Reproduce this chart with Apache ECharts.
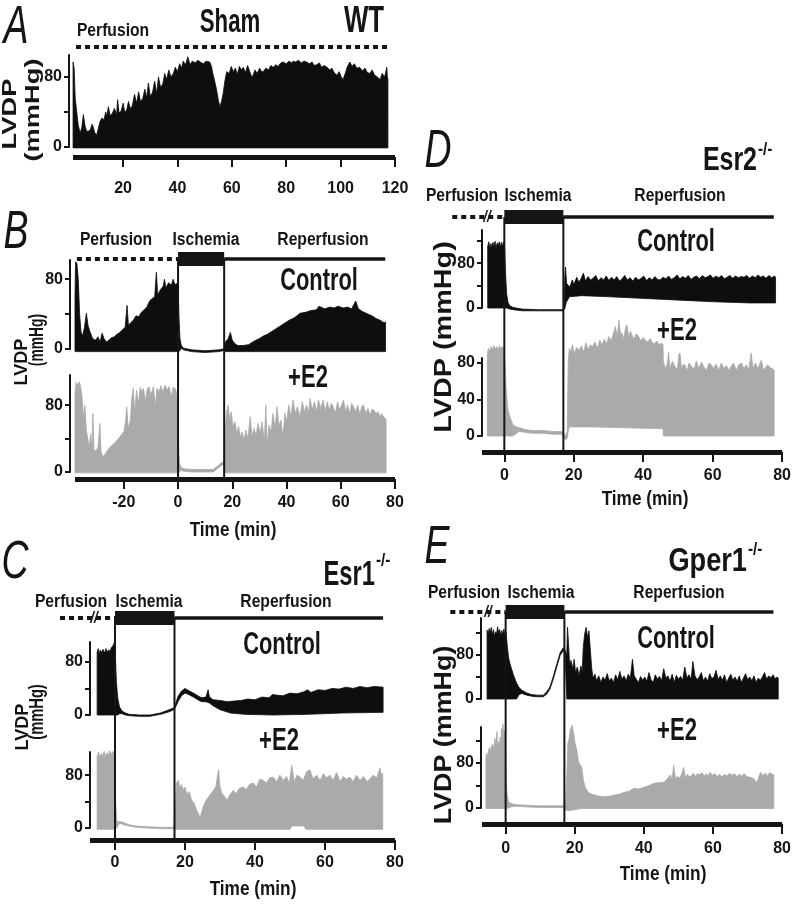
<!DOCTYPE html>
<html><head><meta charset="utf-8">
<script src="https://cdn.jsdelivr.net/npm/echarts@6/dist/echarts.min.js"></script>
<style>html,body{margin:0;padding:0;background:#fff}#c{width:794px;height:908px}</style>
</head><body><div id="c"></div>
<script>
// ================= DATA (time in min, LVDP in mmHg) =================
const A_xTicks = [20,40,60,80,100,120];
const B_xTicks = [-20,0,20,40,60,80];
const CDE_xTicks = [0,20,40,60,80];

const A_upper = [[1.6,97],[2.0,90],[2.4,55],[2.9,42],[3.5,25],[4.2,16],[4.8,22],[5.4,37],[6.0,24],[6.6,18],[7.2,18],[8.0,20],[8.6,26],[9.0,23],[9.6,16],[10.3,14],[10.8,20],[11.5,29],[12.2,33],[13.0,31],[13.6,40],[14.0,35],[14.6,46],[15.2,36],[16.0,38],[16.8,44],[17.6,37],[18.0,54],[18.5,39],[19.3,41],[20.0,50],[20.6,40],[21.3,42],[22.0,52],[22.6,44],[23.4,47],[24.2,60],[25.0,50],[25.7,63],[26.4,52],[27.2,55],[28.0,66],[28.7,56],[29.3,73],[30.0,58],[30.8,62],[31.6,75],[32.4,61],[33.0,80],[33.8,68],[34.6,72],[35.3,84],[36.0,77],[36.8,88],[37.6,80],[38.5,84],[39.2,91],[40.0,86],[40.8,95],[41.5,90],[42.1,98],[43.0,94],[43.8,103],[44.6,94],[45.5,98],[46.5,96],[47.5,99],[48.3,97],[49.5,95],[50.5,98],[51.9,97],[52.5,92],[53.0,84],[53.7,75],[54.4,65],[55.0,54],[55.6,46],[56.2,52],[56.8,61],[57.4,75],[58.1,86],[59.0,84],[59.8,92],[60.5,86],[61.3,90],[62.0,83],[62.8,92],[63.5,88],[64.2,91],[65.0,85],[65.8,93],[66.6,86],[67.3,80],[67.8,82],[68.5,88],[69.3,84],[70.2,90],[71.0,86],[71.5,86],[72.5,90],[73.5,88],[74.3,93],[75.2,91],[76.2,94],[77.0,92],[78.0,96],[78.9,97],[80.0,95],[81.0,98],[82.0,96],[82.5,98],[83.5,97],[84.5,99],[85.5,96],[86.5,98],[87.5,97],[88.5,95],[89.5,97],[90.3,93],[91.2,94],[92.2,96],[93.0,91],[94.0,93],[95.0,91],[96.0,88],[96.8,90],[97.6,85],[98.6,82],[99.5,86],[100.2,80],[100.9,77],[101.6,83],[102.5,92],[103.4,97],[104.2,92],[105.0,95],[106.0,90],[107.0,91],[108.0,87],[109.0,90],[109.8,85],[110.8,84],[111.6,88],[112.5,82],[113.5,80],[114.5,77],[115.3,84],[116.2,80],[117.0,91],[117.2,80],[117.4,77]];
const A_lower = [[1.6,-1],[117.4,-1]];

const B_ctrl_upper = [[-38,60],[-37.8,100],[-37.3,98],[-36.8,80],[-36.3,40],[-35.8,20],[-35.2,15],[-34.5,25],[-33.8,41],[-33.2,27],[-32.5,20],[-31.5,12],[-30.5,10],[-29.5,14],[-28.8,8],[-28,18],[-27.3,12],[-26.5,8],[-25.5,10],[-24.5,13],[-23.5,14],[-22.5,17],[-21.5,19],[-20.5,22],[-19.5,25],[-18.8,50],[-18.3,27],[-17.5,30],[-16.5,33],[-15.5,38],[-14.5,37],[-13.5,42],[-12.5,45],[-11.5,48],[-10.5,55],[-9.5,58],[-8.6,60],[-8,88],[-7.5,62],[-6.5,68],[-5.5,72],[-5,80],[-4.5,70],[-3.5,76],[-2.5,73],[-1.8,80],[-1.2,74],[-0.5,75],[0,70],[0.3,40],[0.7,12],[1.2,4],[2,1],[5,-1],[10,-2],[15,-1],[16.5,0],[17,1],[17.5,8],[18.5,12],[19.3,19],[20,10],[21,6],[22,4],[24,4],[26,5],[28,9],[30,12],[31.5,15],[33,17],[35,21],[37,25],[39,29],[41,33],[43,36],[45,41],[47,42],[49,44],[51,45],[52,49],[54,46],[56,48],[57.5,47],[59,49],[61,47],[62.5,48],[64,46],[65.5,55],[66.5,46],[68,43],[70,40],[71.5,38],[73,35],[74.5,33],[76,30],[76.5,31]];
const B_ctrl_lower = [[-38,-3],[0,-3],[0.7,-2],[1.2,1],[2,-1],[5,-3],[10,-4],[15,-3],[16.5,-2],[17,-1],[17.5,-3],[76.5,-3]];

const B_e2_upper = [[-38,95],[-37.6,107],[-37,104],[-36.4,108],[-35.8,100],[-35.4,90],[-35,65],[-34.4,80],[-33.8,50],[-33.3,40],[-32.8,30],[-32.2,45],[-31.8,28],[-31.4,70],[-31,26],[-30.2,25],[-29.5,30],[-28.8,58],[-28.4,24],[-27.6,18],[-26.8,22],[-26,26],[-25,30],[-24,33],[-23,36],[-22,40],[-21,44],[-20,48],[-19.4,60],[-18.9,78],[-18.4,52],[-17.6,62],[-17,90],[-16.5,100],[-16,70],[-15.3,98],[-14.6,80],[-14,101],[-13.3,96],[-12.8,100],[-12,85],[-11.4,99],[-10.7,102],[-10,92],[-9.1,102],[-8.4,78],[-7.8,100],[-7,96],[-6.3,103],[-5.6,95],[-4.8,104],[-4,98],[-3.3,102],[-2.5,90],[-1.8,101],[-1.1,100],[-0.5,95],[0,60],[0.3,20],[0.6,10],[1,6],[2,4],[5,3],[10,3],[13,3],[14.5,7],[16,11],[17,12],[17.3,40],[17.8,70],[18.5,80],[19,62],[19.6,72],[20.3,54],[21,60],[21.7,45],[22.3,55],[22.9,42],[23.6,48],[24.3,38],[25,50],[25.8,40],[26.6,66],[27.3,42],[28,52],[28.8,44],[29.5,58],[30.3,46],[31,60],[31.8,36],[32.4,80],[32.8,30],[33.5,56],[34.3,48],[35,70],[35.8,52],[36.5,78],[37.2,55],[37.9,62],[38.7,42],[39.4,70],[40.1,60],[40.8,80],[41.6,66],[42.4,86],[43.2,70],[44,78],[45,66],[45.8,84],[46.6,72],[47.4,80],[48.1,70],[48.7,88],[49.5,74],[50.3,84],[51,72],[51.8,86],[52.6,76],[53.5,86],[54.3,72],[55,84],[55.8,74],[56.5,82],[57.2,78],[58,70],[58.8,84],[59.5,74],[60.3,80],[61,86],[61.8,72],[62.5,80],[63.3,70],[64,82],[64.7,78],[65.5,72],[66.3,80],[67,68],[67.7,78],[68.4,80],[69.2,70],[70,76],[70.8,68],[71.5,75],[72.2,74],[73,70],[73.8,72],[74.5,66],[75.2,70],[75.7,66],[76.4,64],[76.7,63]];
const B_e2_lower = [[-38,-1],[0,-1],[0.6,0],[1,2],[2,1],[5,0],[10,0],[13,0],[14.5,4],[16,8],[17,9],[17.3,-1],[76.7,-1]];

const C_ctrl_upper = [[-5.1,95],[-4.8,100],[-4.5,92],[-4.2,98],[-3.8,94],[-3.4,99],[-3.0,93],[-2.6,100],[-2.2,95],[-1.8,98],[-1.4,96],[-1.0,102],[-0.6,104],[-0.3,108],[-0.1,110],[0.1,90],[0.4,50],[0.8,25],[1.3,12],[2,6],[3,3],[4,1],[7,0],[10,0],[13,3],[15,7],[16.5,10],[17,12],[17.5,20],[18,28],[19,36],[20,40],[21,37],[22.4,33],[24,28],[24.8,26],[26,27],[26.6,38],[27,27],[28,23],[30,22],[32,20],[34,21],[36,22],[38,24],[40,23],[42,27],[44,26],[45,31],[46,30],[48,29],[50,33],[52,32],[54,35],[55,38],[56,34],[58,38],[60,37],[62,40],[64,39],[66,42],[68,40],[70,43],[72,41],[74,43],[76.6,42]];
const C_ctrl_lower = [[-5.1,0],[0.1,0],[0.8,0],[1.3,2],[2,2],[3,0],[4,-1],[7,-2],[10,-2],[13,1],[15,4],[16.5,7],[17,9],[17.5,14],[18,20],[19,29],[20,33],[21,31],[22.4,27],[24,22],[24.8,20],[26,20],[27,18],[28,14],[30,8],[33,3],[37,1],[45,0],[55,1],[65,3],[76.6,4]];

const C_e2_upper = [[-5.1,108],[-4.7,115],[-4.3,106],[-3.9,113],[-3.5,109],[-3.1,116],[-2.7,108],[-2.3,114],[-1.9,110],[-1.5,117],[-1.1,111],[-0.7,116],[-0.3,112],[0,100],[0.2,40],[0.5,12],[1,9],[1.5,10],[2.5,8],[4,5],[6,3],[9,2],[13,1],[16.8,1],[17.2,30],[17.6,68],[18.1,72],[18.6,60],[19,66],[19.5,58],[20,62],[20.5,52],[21.2,55],[21.9,42],[22.6,38],[23.3,27],[23.8,22],[24.3,15],[24.8,25],[25.2,32],[25.8,40],[26.7,47],[27.4,52],[28.1,57],[28.8,62],[29.3,80],[29.6,88],[30,62],[30.5,53],[31.2,48],[32,42],[32.8,50],[33.8,57],[34.6,52],[35.5,60],[36.6,62],[37.5,58],[38.4,66],[39.5,68],[40.4,62],[41.4,74],[42.4,72],[43.3,68],[44.2,76],[45.2,77],[46.2,70],[47.1,80],[48.1,72],[49,78],[49.8,68],[50.5,95],[51.2,70],[52,80],[52.9,77],[53.8,72],[54.7,85],[55.7,88],[56.6,74],[57.6,80],[58.6,72],[59.5,82],[60.4,76],[61.4,80],[62.3,72],[63.3,84],[64.3,70],[65.2,78],[66.1,74],[67.1,77],[68,70],[69,80],[70,72],[71,78],[72,70],[72.9,75],[73.8,80],[74.8,76],[75.7,91],[76.1,80],[76.5,83]];
const C_e2_lower = [[-5.1,-2],[0,-2],[0.5,0],[1,5],[1.5,7],[2.5,5],[4,3],[6,1],[9,0],[13,-1],[16.8,-1],[17.2,-2],[50,-2],[50.5,3],[54,3],[54.5,-2],[76.5,-2]];

const D_ctrl_upper = [[-4.8,110],[-4.5,118],[-4.2,106],[-3.9,115],[-3.6,108],[-3.3,117],[-3.0,110],[-2.7,119],[-2.4,107],[-2.1,116],[-1.8,112],[-1.5,118],[-1.2,108],[-0.9,117],[-0.6,110],[-0.3,118],[0,112],[0.3,60],[0.6,25],[1,10],[1.5,4],[2.5,1],[5,-2],[10,-3],[16.5,-3],[17,0],[17.2,55],[17.4,73],[17.7,44],[18.2,40],[18.7,38],[19.3,50],[19.8,42],[20.6,55],[21.2,46],[21.8,52],[22.5,62],[23.1,48],[23.8,56],[24.5,50],[25.3,53],[26,58],[26.8,48],[27.5,54],[28.3,50],[29,57],[29.8,49],[30.5,55],[31.3,50],[32,56],[32.8,48],[33.5,52],[34.3,58],[35,50],[35.8,54],[36.6,48],[37.4,55],[38.2,50],[39,53],[39.7,57],[40.5,49],[41.3,54],[42.1,50],[42.9,56],[43.7,51],[44.4,50],[45.2,55],[46,52],[46.8,57],[47.6,51],[48.4,54],[49.2,59],[50,52],[50.8,56],[51.6,53],[52.4,58],[53.2,51],[54,55],[54.8,57],[55.6,52],[56.4,58],[57.2,54],[58,56],[58.7,59],[59.5,53],[60.3,57],[61.1,54],[61.9,58],[62.7,52],[63.5,55],[64.3,58],[65.1,53],[65.9,57],[66.7,54],[67.5,56],[68.3,55],[69.1,58],[69.9,53],[70.7,57],[71.5,54],[72.3,59],[73,55],[73.8,57],[74.6,53],[75.4,58],[76.2,54],[77,57],[77.3,55]];
const D_ctrl_lower = [[-4.8,0],[0,0],[0.6,0],[1,-1],[1.5,-2],[2.5,-3],[5,-5],[10,-5],[16.5,-5],[17,-3],[17.2,-1],[17.6,10],[18.5,20],[22,22],[30,20],[40,17],[50,14],[60,11],[70,9],[77.3,9]];

const D_e2_upper = [[-4.9,90],[-4.6,96],[-4.2,93],[-3.8,98],[-3.4,94],[-3.0,99],[-2.6,95],[-2.2,98],[-1.8,94],[-1.4,99],[-1.0,95],[-0.6,98],[-0.2,96],[0,94],[0.3,70],[0.6,47],[1,30],[1.6,21],[2.5,12],[3.5,10],[4.4,9],[6,7],[8,6],[11,6],[14,5],[16.5,5],[17,3],[17.5,0],[18.1,5],[18.4,80],[18.7,96],[19.2,92],[19.6,100],[20.2,90],[20.8,97],[21.6,94],[22.2,99],[22.8,92],[23.5,102],[24.2,95],[24.8,100],[25.4,98],[26.1,103],[26.8,96],[27.5,105],[28.1,100],[28.8,106],[29.4,101],[30.1,109],[30.7,104],[31.4,112],[32,120],[32.5,108],[33,127],[33.5,110],[33.9,113],[34.4,106],[34.9,118],[35.3,122],[35.8,108],[36.3,115],[36.7,111],[37.3,106],[38,112],[38.7,109],[39.3,104],[40,108],[40.6,105],[41.3,103],[42,107],[42.5,103],[43.2,101],[43.9,104],[44.6,100],[45.3,102],[45.7,100],[45.8,81],[46.4,74],[47,80],[47.3,92],[47.7,74],[48.4,82],[49.2,76],[49.8,72],[50.3,90],[50.6,91],[51,74],[51.5,78],[52,78],[52.6,71],[53.2,80],[54,76],[54.6,73],[55.3,82],[56,74],[56.8,81],[57.4,76],[58.2,72],[59,80],[59.6,78],[60.3,74],[61,79],[61.7,72],[62.5,80],[63.2,74],[64,77],[64.6,72],[65.3,76],[66,80],[66.8,72],[67.5,78],[68.3,80],[69,74],[69.7,78],[70.4,73],[71.1,91],[71.6,74],[72.3,80],[73,74],[74,83],[74.7,72],[75.8,78],[76.5,75],[77.2,74],[77.7,72]];
const D_e2_lower = [[-4.9,0],[0,0],[0.6,0],[1.6,0],[2.5,0],[3.5,3],[4.4,5],[6,4],[8,3],[11,3],[14,2],[16.5,2],[17,0],[17.5,-4],[18.1,-3],[18.4,5],[18.7,10],[25,10],[35,9],[45.7,8],[45.8,0],[77.7,0]];

const E_ctrl_upper = [[-5.4,125],[-5.1,118],[-4.8,128],[-4.5,120],[-4.2,130],[-3.9,117],[-3.6,126],[-3.3,114],[-3.0,122],[-2.7,118],[-2.4,131],[-2.1,120],[-1.8,126],[-1.5,115],[-1.2,124],[-0.9,118],[-0.6,127],[-0.3,115],[0,122],[0.3,100],[0.7,76],[1.1,65],[1.6,54],[2.1,44],[3,29],[3.7,21],[4.5,16],[5.9,11],[7.3,8],[8.7,7],[10.6,7],[11.6,13],[12.5,22],[13.4,40],[14.4,62],[15.4,84],[16.3,93],[16.8,89],[17.3,80],[17.5,130],[17.8,100],[18.1,62],[18.5,70],[19,55],[19.4,72],[19.8,48],[20.3,58],[20.8,42],[21.3,60],[21.7,50],[22,95],[22.4,118],[22.8,130],[23.2,112],[23.6,124],[24,90],[24.4,55],[24.8,38],[25.3,45],[25.8,33],[26.4,42],[27,30],[27.6,40],[28.2,34],[28.8,46],[29.4,33],[30,38],[30.6,30],[31.2,44],[31.8,35],[32.4,50],[33,36],[33.6,42],[34.2,33],[34.8,45],[35.4,38],[36,72],[36.5,42],[37.1,36],[37.7,30],[38.3,41],[38.9,34],[39.5,40],[40.1,32],[40.7,48],[41.3,35],[41.9,30],[42.5,44],[43.1,36],[43.7,41],[44.3,33],[44.9,55],[45.5,38],[46.1,42],[46.7,32],[47.3,45],[47.9,30],[48.5,43],[49.1,36],[49.7,41],[50.3,34],[50.9,58],[51.5,38],[52.1,44],[52.7,36],[53.2,68],[53.8,42],[54.4,35],[55,40],[55.6,48],[56.2,33],[56.8,40],[57.4,32],[58,46],[58.6,37],[59.2,40],[59.8,52],[60.4,35],[61,42],[61.6,34],[62.2,44],[62.8,30],[63.4,38],[64,45],[64.6,34],[65.2,40],[65.8,32],[66.4,42],[67,30],[67.6,38],[68.2,46],[68.8,35],[69.4,40],[70,33],[70.6,42],[71.2,30],[71.8,38],[72.4,34],[73,40],[73.6,48],[74.2,36],[74.8,42],[75.4,38],[76,44],[76.6,37],[77.2,40],[77.5,38]];
const E_ctrl_lower = [[-5.4,0],[0.3,0],[3,0],[3.7,8],[4.5,10],[5.9,7],[7.3,5],[8.7,4],[10.6,4],[11.6,9],[12.5,18],[13.4,35],[14.4,57],[15.4,79],[16.3,88],[16.8,84],[17.3,0],[77.5,0]];

const E_e2_upper = [[-5.7,92],[-5.4,98],[-5.2,90],[-4.9,104],[-4.6,108],[-4.4,98],[-4.1,110],[-3.7,114],[-3.4,104],[-3.1,124],[-2.8,112],[-2.5,136],[-2.3,106],[-2.1,118],[-1.8,112],[-1.6,126],[-1.4,116],[-1.2,142],[-1.0,120],[-0.8,150],[-0.5,126],[-0.3,138],[-0.1,120],[0.1,60],[0.4,25],[0.8,12],[1.5,8],[3,6],[6,5],[10,4],[14,4],[17,4],[17.3,2],[17.6,40],[18,115],[18.4,125],[18.7,139],[19.2,147],[19.7,133],[20.1,115],[20.6,103],[21.1,82],[21.6,76],[22,73],[22.5,50],[23,37],[23.9,28],[24.8,25],[25.8,23],[27.2,21],[28.7,20],[30.1,21],[31.5,23],[33,25],[34.4,28],[35.8,30],[37.2,35],[38.6,34],[40.1,37],[41.5,40],[42.9,44],[44.4,45],[45.8,46],[46.8,52],[47.7,59],[48.2,50],[48.6,76],[49.2,52],[49.8,56],[50.5,53],[51,62],[51.5,72],[52,54],[52.5,60],[53.4,55],[54.3,62],[54.8,56],[55.5,61],[56.2,59],[56.8,63],[57.5,57],[58.2,61],[58.6,56],[59.1,64],[59.8,58],[60.5,61],[61.2,56],[61.9,60],[62.6,55],[63.3,60],[64,57],[64.8,62],[65.5,58],[66.2,61],[66.9,56],[67.6,60],[68.3,57],[69,61],[69.8,56],[70.5,55],[71.2,54],[71.8,52],[72.4,46],[72.9,48],[73.4,58],[73.8,64],[74.3,58],[75.2,62],[75.8,57],[76.4,63],[77.1,60],[77.6,59]];
const E_e2_lower = [[-5.7,-1],[0.1,-1],[0.8,0],[1.5,2],[3,3],[6,2],[10,1],[14,1],[17,1],[17.3,-3],[18,-5],[20,-3],[22,-1],[77.6,-1]];

const ISCHEMIA = [0, 17];

// ================= STYLE / LAYOUT =================
const BLACK = '#0e0e0e', GRAY = '#a9aaac', INK = '#151515';
const REG = "'Liberation Sans',Arial,sans-serif";

const GRIDS = [
  {left:73,top:55,width:322,height:92},
  {left:75,top:260,width:320,height:89},
  {left:75,top:375,width:320,height:97},
  {left:90,top:642,width:305,height:73},
  {left:90,top:752,width:305,height:76},
  {left:482,top:230,width:303,height:78},
  {left:482,top:358,width:303,height:78},
  {left:482,top:618,width:305,height:81},
  {left:482,top:727,width:305,height:81}
];
const XR = [[1.58,120],[-38,80],[-38,80],[-7.14,80],[-7.14,80],[-6.43,80],[-6.43,80],[-6.84,80],[-6.84,80]];
const XSHOW = [1,0,1,0,1,0,1,0,1];
const XOFF = [10,0,7,0,12,0,16,0,16];
const XMARG = [24,0,16,0,15,0,16,0,17];
const XT = [A_xTicks,B_xTicks,B_xTicks,CDE_xTicks,CDE_xTicks,CDE_xTicks,CDE_xTicks,CDE_xTicks,CDE_xTicks];
const YMAX = [105,102,116,110,115,139,85.5,147,144];
const YT = [[0,40,80],[0,40,80],[0,40,80],[0,40,80],[0,40,80],[0,40,80,120],[0,40,80],[0,40,80,120],[0,40,80,120]];
const YL = [[0,80],[0,80],[0,80],[0,80],[0,80],[0,80],[0,40,80],[0,80],[0,80]];
const YOFF = [4,5,5,0,0,0,0,1,1];

const TRACES = [
  [A_upper,A_lower,BLACK],[B_ctrl_upper,B_ctrl_lower,BLACK],[B_e2_upper,B_e2_lower,GRAY],
  [C_ctrl_upper,C_ctrl_lower,BLACK],[C_e2_upper,C_e2_lower,GRAY],
  [D_ctrl_upper,D_ctrl_lower,BLACK],[D_e2_upper,D_e2_lower,GRAY],
  [E_ctrl_upper,E_ctrl_lower,BLACK],[E_e2_upper,E_e2_lower,GRAY]
];

const chart = echarts.init(document.getElementById('c'), null, {renderer:'canvas'});

const xAxis = GRIDS.map((g,i)=>({
  type:'value', gridIndex:i, min:XR[i][0], max:XR[i][1], show:!!XSHOW[i],
  position:'bottom', offset:XOFF[i],
  axisLine:{show:true,onZero:false,lineStyle:{color:INK,width:5,cap:'butt'}},
  axisTick:{show:true,inside:false,length:10,lineStyle:{color:INK,width:2},customValues:XT[i]},
  axisLabel:{show:true,customValues:XT[i],margin:XMARG[i],color:INK,fontFamily:REG,fontWeight:'bold',fontSize:16},
  splitLine:{show:false}
}));
const yAxis = GRIDS.map((g,i)=>({
  type:'value', gridIndex:i, min:0, max:YMAX[i], position:'left', offset:YOFF[i],
  axisLine:{show:true,onZero:false,lineStyle:{color:INK,width:2}},
  axisTick:{show:true,inside:false,length:5,lineStyle:{color:INK,width:2},customValues:YT[i]},
  axisLabel:{show:true,customValues:YL[i],margin:7,color:INK,fontFamily:REG,fontWeight:'bold',fontSize:16},
  splitLine:{show:false}
}));
const series = TRACES.map(([up,lo,col],i)=>{
  const data = up.map(p=>[p[0],p[1],0]).concat(lo.map(p=>[p[0],p[1],1]));
  const n = data.length;
  return {
    type:'custom', xAxisIndex:i, yAxisIndex:i, clip:false, silent:true, animation:false,
    data:data,
    renderItem:(params,api)=>{
      if (params.dataIndexInside !== 0) return null;
      const a=[], b=[];
      for (let k=0;k<n;k++){
        const pt = api.coord([api.value(0,k), api.value(1,k)]);
        if (api.value(2,k)===0) a.push(pt); else b.push(pt);
      }
      return {type:'polygon', shape:{points:a.concat(b.reverse())}, style:{fill:col,stroke:col,lineWidth:0.8}};
    }
  };
});

chart.setOption({animation:false, grid:GRIDS.map(g=>Object.assign({containLabel:false},g)), xAxis, yAxis, series});

// ================= ANNOTATIONS =================
const px = (ai,t)=>chart.convertToPixel({xAxisIndex:ai},t);
const G = [];
function txt(s,x,y,o){
  o=o||{};
  const al=o.align||'center';
  G.push({type:'text', x:x, y:y, rotation:o.rot||0, scaleX:(o.sx==null?0.87:o.sx), scaleY:o.sy||1, z:10,
    style:{text:s, fill:INK, font:(o.style||'normal')+' '+(o.weight||'bold')+' '+(o.size||18)+'px '+REG,
      align:al, verticalAlign:'middle', textAlign:al, textVerticalAlign:'middle'}});
}
function line(x1,y1,x2,y2,w,dash){
  G.push({type:'line', z:9, shape:{x1,y1,x2,y2}, style:{stroke:INK,lineWidth:w,lineDash:dash||null,lineCap:'butt'}});
}
function rect(x,y,w,h){ G.push({type:'rect', z:9, shape:{x,y,width:w,height:h}, style:{fill:INK}}); }

function phases(ai, yb, tDotStart, tEnd, yAxisBar, brk){
  const x0=px(ai,ISCHEMIA[0]), x1=px(ai,ISCHEMIA[1]);
  line(px(ai,tDotStart), yb, x0, yb, 4, [5,4]);
  rect(x0, yb-7, x1-x0, 14);
  line(x1, yb, px(ai,tEnd), yb, 3.5);
  line(x0, yb, x0, yAxisBar, 2);
  line(x1, yb, x1, yAxisBar, 2);
  if (brk) txt('//', brk, yb, {size:17, style:'italic', sx:0.8});
}
line(px(0,2.7),47,px(0,117.4),47,4,[5,4]);
phases(2,259,-37.3,76.4,479,null);
phases(4,618,-15.7,76.6,840,94);
phases(6,217,-15,77.6,452,487);
phases(8,612,-16,77.5,824,488);

// panel letters
const LET = {size:48, style:'italic', weight:'normal', sx:0.78, sy:1.12};
txt('A',16,28,LET); txt('B',16,233,LET); txt('C',15,563,LET); txt('D',438,152,LET); txt('E',437,548,LET);

// A
txt('Perfusion',113,31); txt('Sham',230,23,{size:30,sx:0.74,sy:1.08}); txt('WT',364,22,{size:34,sx:0.76,sy:1.08});
// B
txt('Perfusion',116,240); txt('Ischemia',206,240); txt('Reperfusion',323,240);
txt('Control',319,282,{size:28,sx:0.78,sy:1.1}); txt('+E2',308,378,{size:29,sx:0.76,sy:1.08});
txt('Time (min)',233,530,{size:21,sx:0.82});
// C
txt('Perfusion',71,602); txt('Ischemia',149,602); txt('Reperfusion',286,602);
txt('Control',282,646,{size:28,sx:0.78,sy:1.1}); txt('+E2',279,741,{size:29,sx:0.76,sy:1.08});
txt('Esr1',375,575,{size:33,align:'right',sx:0.72,sy:1.05}); txt('-/-',376,561,{size:18,align:'left',sx:0.85});
txt('Time (min)',253,889,{size:21,sx:0.82});
// D
txt('Perfusion',462,196); txt('Ischemia',538,196); txt('Reperfusion',680,196);
txt('Control',676,243,{size:28,sx:0.78,sy:1.1}); txt('+E2',677,331,{size:29,sx:0.76,sy:1.08});
txt('Esr2',757,161,{size:32,align:'right',sx:0.78,sy:1.05}); txt('-/-',758,150,{size:18,align:'left',sx:0.85});
txt('Time (min)',645,499,{size:21,sx:0.82});
// E
txt('Perfusion',464,593); txt('Ischemia',541,593); txt('Reperfusion',679,593);
txt('Control',676,640,{size:28,sx:0.78,sy:1.1}); txt('+E2',677,731,{size:29,sx:0.76,sy:1.08});
txt('Gper1',747,562,{size:32,align:'right',sx:0.85,sy:1.05}); txt('-/-',748,550,{size:18,align:'left',sx:0.85});
txt('Time (min)',663,874,{size:21,sx:0.82});

// y titles
const R = Math.PI/2;
txt('LVDP',10,114,{rot:R,size:21,sx:1.3});
txt('(mmHg)',33,110,{rot:R,size:21,sx:1.3});
txt('LVDP',22,362,{rot:R,size:19,sx:0.95});
txt('(mmHg)',37,340,{rot:R,size:21,sx:0.66});
txt('LVDP',23,727,{rot:R,size:19,sx:0.95});
txt('(mmHg)',37,712,{rot:R,size:21,sx:0.7});
txt('LVDP (mmHg)',444,337,{rot:R,size:24,sx:1.2});
txt('LVDP (mmHg)',444,735,{rot:R,size:24,sx:1.12});

chart.setOption({graphic:G});
</script></body></html>
